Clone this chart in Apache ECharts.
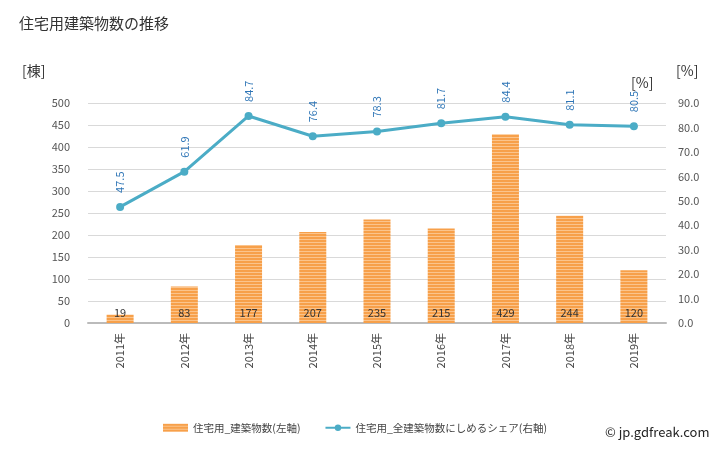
<!DOCTYPE html>
<html><head><meta charset="utf-8">
<script src="https://cdn.jsdelivr.net/npm/echarts@6/dist/echarts.min.js"></script>
<style>html,body{margin:0;padding:0;background:#fff}#c{width:728px;height:450px}</style>
</head><body><div id="c"></div>
<script>
const categories = ['2011年','2012年','2013年','2014年','2015年','2016年','2017年','2018年','2019年'];
const buildings = [19, 83, 177, 207, 235, 215, 429, 244, 120];
const share = [47.5, 61.9, 84.7, 76.4, 78.3, 81.7, 84.4, 81.1, 80.5];
const leftTicks = {min: 0, max: 500, interval: 50};
const rightTicks = {min: 0, max: 90, interval: 10};

function stripes() {
  const c = document.createElement('canvas');
  c.width = 4; c.height = 3;
  const g = c.getContext('2d');
  g.fillStyle = '#f7a04a'; g.fillRect(0,0,4,3);
  g.fillStyle = '#fbc48c'; g.fillRect(0,2,4,1);
  return c;
}
const pat = {image: stripes(), repeat: 'repeat'};
const font = '"Noto Sans CJK JP", "Noto Sans", sans-serif';
const chart = echarts.init(document.getElementById('c'), null, {renderer: 'canvas'});
chart.setOption({
  animation: false,
  textStyle: {fontFamily: font},
  title: {text: '住宅用建築物数の推移', left: 14, top: 11,
    textStyle: {fontSize: 15, fontWeight: 'normal', color: '#333', fontFamily: font}},
  graphic: [
    {type: 'text', left: 22, top: 64, style: {text: '[棟]', fill: '#333', font: '14px ' + font}},
    {type: 'text', left: 631, top: 76, style: {text: '[%]', fill: '#333', font: '14px ' + font}},
    {type: 'text', left: 676, top: 64, style: {text: '[%]', fill: '#333', font: '14px ' + font}},
    {type: 'text', left: 605, top: 426, style: {text: '© jp.gdfreak.com', fill: '#222', font: '13px ' + font}}
  ],
  legend: {
    bottom: 12, left: 158, itemGap: 24, itemWidth: 25, itemHeight: 8,
    textStyle: {fontSize: 10.5, color: '#444', fontFamily: font},
    data: [
      {name: '住宅用_建築物数(左軸)', icon: 'rect', itemStyle: {color: pat}},
      {name: '住宅用_全建築物数にしめるシェア(右軸)'}
    ]
  },
  grid: {left: 88, right: 62, top: 103, bottom: 127},
  xAxis: {
    type: 'category', data: categories,
    axisLine: {lineStyle: {color: '#bbb', width: 2}},
    axisTick: {show: false},
    axisLabel: {rotate: 90, fontSize: 11, color: '#444', margin: 10}
  },
  yAxis: [
    {type: 'value', min: leftTicks.min, max: leftTicks.max, interval: leftTicks.interval,
     axisLine: {show: false}, axisTick: {show: false},
     axisLabel: {fontSize: 11, color: '#555', margin: 18},
     splitLine: {lineStyle: {color: '#d9d9d9'}}},
    {type: 'value', min: rightTicks.min, max: rightTicks.max, interval: rightTicks.interval,
     axisLine: {show: false}, axisTick: {show: false},
     axisLabel: {fontSize: 11, color: '#555', margin: 12, formatter: v => v.toFixed(1)},
     splitLine: {show: false}}
  ],
  series: [
    {name: '住宅用_建築物数(左軸)', type: 'bar', data: buildings, barWidth: 27,
     itemStyle: {color: pat},
     label: {show: true, position: 'insideBottom', distance: 5, color: '#333', fontSize: 11}},
    {name: '住宅用_全建築物数にしめるシェア(右軸)', type: 'line', yAxisIndex: 1, data: share,
     symbol: 'circle', symbolSize: 8,
     lineStyle: {color: '#4bacc6', width: 3}, itemStyle: {color: '#4bacc6'},
     label: {show: true, position: 'top', rotate: 90, align: 'left', verticalAlign: 'middle',
       distance: 10, color: '#2e75b6', fontSize: 11, formatter: p => p.value.toFixed(1)}}
  ]
});
</script></body></html>
